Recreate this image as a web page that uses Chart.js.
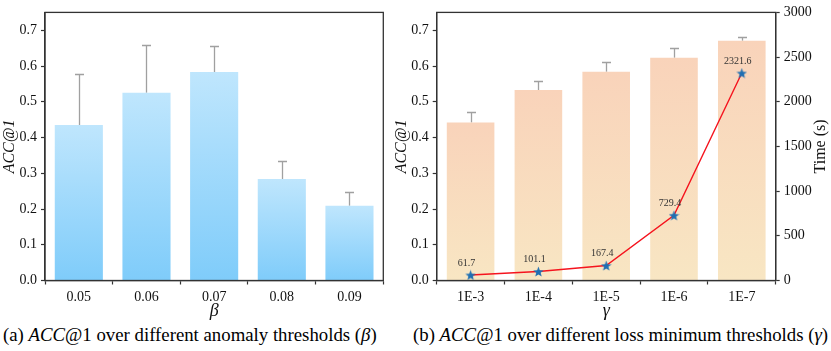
<!DOCTYPE html>
<html><head><meta charset="utf-8">
<script src="https://cdn.jsdelivr.net/npm/chart.js@4.4.0/dist/chart.umd.min.js"></script>
<style>
html,body{margin:0;padding:0;background:#fff;}
body{width:831px;height:351px;position:relative;overflow:hidden;font-family:"Liberation Serif","Times New Roman",Times,serif;}
#c1{position:absolute;left:0;top:0;}
#c2{position:absolute;left:392px;top:0;}
.cap{position:absolute;top:325px;font-size:18.8px;white-space:nowrap;color:#000;line-height:20px;}
</style></head><body>
<canvas id="c1" width="390" height="323"></canvas>
<canvas id="c2" width="439" height="323"></canvas>
<div class="cap" style="left:3px">(a) <i>ACC</i>@1 over different anomaly thresholds (<i>β</i>)</div>
<div class="cap" style="left:413px">(b) <i>ACC</i>@1 over different loss minimum thresholds (<i>γ</i>)</div>
<script>
const betaLabels = ['0.05','0.06','0.07','0.08','0.09'];
const betaAcc = [0.435,0.525,0.583,0.284,0.209];
const betaErr = [0.143,0.135,0.072,0.049,0.039];
const gammaLabels = ['1E-3','1E-4','1E-5','1E-6','1E-7'];
const gammaAcc = [0.442,0.533,0.584,0.623,0.671];
const gammaErr = [0.030,0.026,0.027,0.028,0.009];
const gammaTime = [61.7,101.1,167.4,729.4,2321.6];
const accTicks = [0,0.1,0.2,0.3,0.4,0.5,0.6,0.7];
const timeTicks = [0,500,1000,1500,2000,2500,3000];

const FONT = '"Liberation Serif", "Times New Roman", Times, serif';
const AX = '#333';
Chart.defaults.font.family = FONT;

function barGradient(top, bottom){
  return function(c){
    const chart=c.chart;
    if(!chart.chartArea || c.type!=='data') return bottom;
    const ys=chart.scales.y;
    const v = (c.parsed && c.parsed.y!=null) ? c.parsed.y : c.raw;
    const y0=ys.getPixelForValue(v), y1=ys.getPixelForValue(0);
    const g=chart.ctx.createLinearGradient(0,y0,0,y1);
    g.addColorStop(0,top); g.addColorStop(1,bottom);
    return g;
  };
}
function starImg(size,color){
  const c=document.createElement('canvas'); c.width=c.height=size;
  const g=c.getContext('2d'); const R=size/2, r=R*0.42;
  g.beginPath();
  for(let k=0;k<10;k++){const a=-Math.PI/2+k*Math.PI/5;const rad=k%2?r:R;g.lineTo(R+rad*Math.cos(a),R+rad*Math.sin(a)+0.6);}
  g.closePath(); g.fillStyle=color; g.fill(); return c;
}
const errPlugin={
  id:'err',
  beforeDatasetsDraw(chart,args,opts){
    const ctx=chart.ctx, ys=chart.scales.y, xs=chart.scales.x;
    ctx.save(); ctx.strokeStyle='#a0a0a0'; ctx.lineWidth=1.3;
    opts.values.forEach((v,i)=>{
      const x=Math.round(xs.getPixelForValue(i))+0.5;
      const yb=ys.getPixelForValue(v), yt=Math.round(ys.getPixelForValue(v+opts.errs[i]))+0.5;
      ctx.beginPath(); ctx.moveTo(x,yb); ctx.lineTo(x,yt); ctx.moveTo(x-4.5,yt); ctx.lineTo(x+4.5,yt); ctx.stroke();
    });
    ctx.restore();
  }
};
const framePlugin={
  id:'frame',
  afterDraw(chart,args,opts){
    const a=chart.chartArea, ctx=chart.ctx;
    ctx.save(); ctx.strokeStyle=AX; ctx.lineWidth=1.3;
    ctx.strokeRect(a.left,a.top,a.right-a.left,a.bottom-a.top);
    ctx.font='italic 18px '+FONT; ctx.fillStyle='#111'; ctx.textAlign='center'; ctx.textBaseline='middle';
    ctx.fillText(opts.xtitle,(a.left+a.right)/2,311);
    ctx.restore();
  }
};
const labelPlugin={
  id:'ptlabels',
  afterDatasetsDraw(chart){
    const meta=chart.getDatasetMeta(1), ctx=chart.ctx;
    ctx.save(); ctx.font='10px '+FONT; ctx.fillStyle='#333'; ctx.textAlign='center'; ctx.textBaseline='middle';
    meta.data.forEach((p,i)=>{ ctx.fillText(String(gammaTime[i]), p.x-4, p.y-12); });
    ctx.restore();
  }
};
const timeTitlePlugin={
  id:'timeTitle',
  afterDraw(chart){
    const ctx=chart.ctx, a=chart.chartArea;
    ctx.save(); ctx.font='16px '+FONT; ctx.fillStyle='#111'; ctx.textAlign='center'; ctx.textBaseline='middle';
    ctx.translate(429,(a.top+a.bottom)/2); ctx.rotate(-Math.PI/2); ctx.fillText('Time (s)',0,0);
    ctx.restore();
  }
};

function xScale(labels){
  return {
    type:'category', labels:labels, offset:true,
    grid:{display:true,drawOnChartArea:false,drawTicks:true,tickLength:4,color:AX,tickWidth:1.2},
    border:{display:true,color:AX,width:1.3},
    ticks:{font:{family:FONT,size:14},color:'#111',padding:4,maxRotation:0},
    afterFit(s){s.height=42.5;}
  };
}
function accScale(width){
  return {
    type:'linear', position:'left', min:0, max:0.75,
    afterBuildTicks(s){s.ticks=accTicks.map(v=>({value:v}));},
    grid:{display:true,drawOnChartArea:false,drawTicks:true,tickLength:4,color:AX,tickWidth:1.2},
    border:{display:true,color:AX,width:1.3},
    ticks:{font:{family:FONT,size:14},color:'#111',padding:4,callback:v=>v.toFixed(1)},
    title:{display:true,text:'ACC@1',font:{family:FONT,size:16,style:'italic'},color:'#111',padding:{top:0,bottom:0}},
    afterFit(s){s.width=width;}
  };
}

new Chart(document.getElementById('c1'),{
  type:'bar',
  data:{labels:betaLabels,datasets:[{data:betaAcc,backgroundColor:barGradient('#bfe6fd','#7fccfa'),borderWidth:0,barPercentage:0.9,categoryPercentage:0.79}]},
  options:{
    responsive:false,animation:false,
    layout:{padding:{top:7,right:6.7,left:0,bottom:0}},
    plugins:{legend:{display:false},tooltip:{enabled:false},err:{values:betaAcc,errs:betaErr},frame:{xtitle:'β'}},
    scales:{x:xScale(betaLabels),y:accScale(45)}
  },
  plugins:[errPlugin,framePlugin]
});

new Chart(document.getElementById('c2'),{
  type:'bar',
  data:{labels:gammaLabels,datasets:[
    {type:'bar',data:gammaAcc,yAxisID:'y',backgroundColor:barGradient('#f9d3ba','#f8e6c3'),borderWidth:0,barPercentage:0.9,categoryPercentage:0.78,order:2},
    {type:'line',data:gammaTime,yAxisID:'y2',borderColor:'#f5141e',borderWidth:1.4,tension:0,pointStyle:starImg(11,'#1f6fb2'),pointRadius:5,order:0}
  ]},
  options:{
    responsive:false,animation:false,
    layout:{padding:{top:7,right:0,left:0,bottom:0}},
    plugins:{legend:{display:false},tooltip:{enabled:false},err:{values:gammaAcc,errs:gammaErr},frame:{xtitle:'γ'}},
    scales:{
      x:xScale(gammaLabels),
      y:accScale(44.7),
      y2:{
        type:'linear',position:'right',min:0,max:3000,
        afterBuildTicks(s){s.ticks=timeTicks.map(v=>({value:v}));},
        grid:{display:true,drawOnChartArea:false,drawTicks:true,tickLength:4,color:AX,tickWidth:1.2},
        border:{display:true,color:AX,width:1.3},
        ticks:{font:{family:FONT,size:14},color:'#111',padding:4,callback:v=>String(v)},
        afterFit(s){s.width=55.3;}
      }
    }
  },
  plugins:[errPlugin,framePlugin,labelPlugin,timeTitlePlugin]
});
</script>
</body></html>
